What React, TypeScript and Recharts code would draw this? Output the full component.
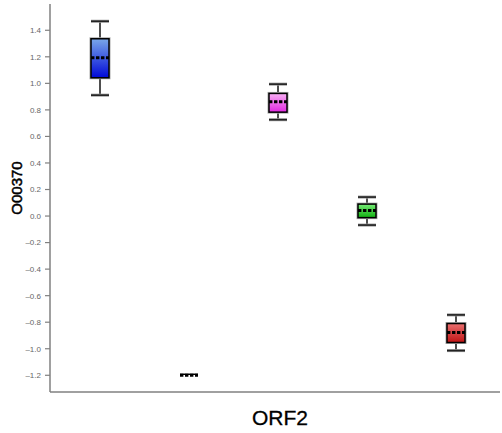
import React from 'react';
import { ComposedChart, Bar, XAxis, YAxis } from 'recharts';

const categories = ['G1', 'G2', 'G3', 'G4', 'G5'];
const whiskerLow = [0.911, -1.2, 0.726, -0.068, -1.014];
const q1Values = [1.042, -1.2, 0.783, -0.012, -0.953];
const medianValues = [1.193, -1.2, 0.861, 0.041, -0.878];
const q3Values = [1.336, -1.2, 0.924, 0.09, -0.81];
const whiskerHigh = [1.468, -1.2, 0.994, 0.143, -0.745];
const gradientTop = ['#7aa8e8', '#000000', '#f8b0f4', '#78ec78', '#ea7070'];
const gradientBottom = ['#0008d8', '#000000', '#e028e0', '#10b010', '#c01414'];
const yTicks = [-1.2, -1.0, -0.8, -0.6, -0.4, -0.2, 0.0, 0.2, 0.4, 0.6, 0.8, 1.0, 1.2, 1.4];

const data = categories.map((name, i) => ({
  name,
  range: [whiskerLow[i], whiskerHigh[i]],
  min: whiskerLow[i],
  q1: q1Values[i],
  median: medianValues[i],
  q3: q3Values[i],
  max: whiskerHigh[i],
  idx: i,
}));

const BoxShape = (props: any) => {
  const { x, y, width, height, payload } = props;
  if (x == null || y == null) return null;
  const top = Math.min(y, y + height);
  const bot = Math.max(y, y + height);
  const { min, max, q1, median, q3, idx } = payload;
  const toPx = (v: number) => (max === min ? top : top + ((max - v) / (max - min)) * (bot - top));
  const cx = x + width / 2;
  const w = width;
  const pMax = toPx(max);
  const pMin = toPx(min);
  const pQ1 = toPx(q1);
  const pQ3 = toPx(q3);
  const pMed = toPx(median);
  const flat = max === min;
  return (
    <g>
      {!flat && (
        <g>
          <line x1={cx} x2={cx} y1={pMax} y2={pQ3} stroke="#222" strokeWidth={1.6} />
          <line x1={cx} x2={cx} y1={pQ1} y2={pMin} stroke="#222" strokeWidth={1.6} />
          <line x1={cx - w / 2} x2={cx + w / 2} y1={pMax} y2={pMax} stroke="#999" strokeWidth={3} />
          <line x1={cx - w / 2} x2={cx + w / 2} y1={pMax} y2={pMax} stroke="#222" strokeWidth={1.6} />
          <line x1={cx - w / 2} x2={cx + w / 2} y1={pMin} y2={pMin} stroke="#999" strokeWidth={3} />
          <line x1={cx - w / 2} x2={cx + w / 2} y1={pMin} y2={pMin} stroke="#222" strokeWidth={1.6} />
          <rect x={cx - w / 2} y={pQ3} width={w} height={pQ1 - pQ3} fill="none" stroke="#aaa" strokeWidth={3} />
          <rect x={cx - w / 2} y={pQ3} width={w} height={pQ1 - pQ3} fill={`url(#boxGrad${idx})`} stroke="#000" strokeWidth={1.5} />
        </g>
      )}
      {flat && (
        <line x1={cx - w / 2} x2={cx + w / 2} y1={pMed - 1} y2={pMed - 1} stroke="#000" strokeWidth={1.5} />
      )}
      <line x1={cx - w / 2} x2={cx + w / 2} y1={pMed} y2={pMed} stroke="#000" strokeWidth={3} strokeDasharray="3.4 1.6" />
    </g>
  );
};

export default function App() {
  return (
    <div style={{ position: 'absolute', left: 0, top: 0 }}>
      <ComposedChart
        width={502}
        height={433}
        data={data}
        margin={{ top: 4, right: 2, bottom: 0, left: 0 }}
        barSize={18}
      >
        <defs>
          {categories.map((c, i) => (
            <linearGradient key={c} id={`boxGrad${i}`} x1="0" y1="0" x2="0" y2="1">
              <stop offset="0%" stopColor={gradientTop[i]} />
              <stop offset="100%" stopColor={gradientBottom[i]} />
            </linearGradient>
          ))}
        </defs>
        <XAxis
          dataKey="name"
          height={41}
          padding={{ left: 5, right: 0 }}
          tick={false}
          tickSize={4}
          axisLine={{ stroke: '#808080', strokeWidth: 1.5 }}
          tickLine={{ stroke: '#808080', strokeWidth: 1.2 }}
        />
        <YAxis
          width={50}
          type="number"
          domain={[-1.326, 1.598]}
          ticks={yTicks}
          interval={0}
          allowDataOverflow
          tickSize={5}
          tickMargin={4}
          tickFormatter={(v: number) => (v < 0 ? '\u2013' + Math.abs(v).toFixed(1) : v.toFixed(1))}
          tick={{ fontSize: 8, fill: '#666', fontFamily: 'Liberation Sans, Arial, sans-serif' }}
          axisLine={{ stroke: '#808080', strokeWidth: 1.5 }}
          tickLine={{ stroke: '#808080', strokeWidth: 1.2 }}
        />
        <Bar dataKey="range" shape={BoxShape} isAnimationActive={false} />
        <text
          x={16}
          y={188}
          transform="rotate(-90 16 188)"
          textAnchor="middle"
          dominantBaseline="central"
          fontSize={15}
          fill="#000"
          stroke="#000"
          strokeWidth={0.5}
          fontFamily="Liberation Sans, Arial, sans-serif"
        >
          O00370
        </text>
        <text
          x={280}
          y={425}
          textAnchor="middle"
          fontSize={21}
          fill="#000"
          stroke="#000"
          strokeWidth={0.3}
          fontFamily="Liberation Sans, Arial, sans-serif"
        >
          ORF2
        </text>
      </ComposedChart>
    </div>
  );
}
